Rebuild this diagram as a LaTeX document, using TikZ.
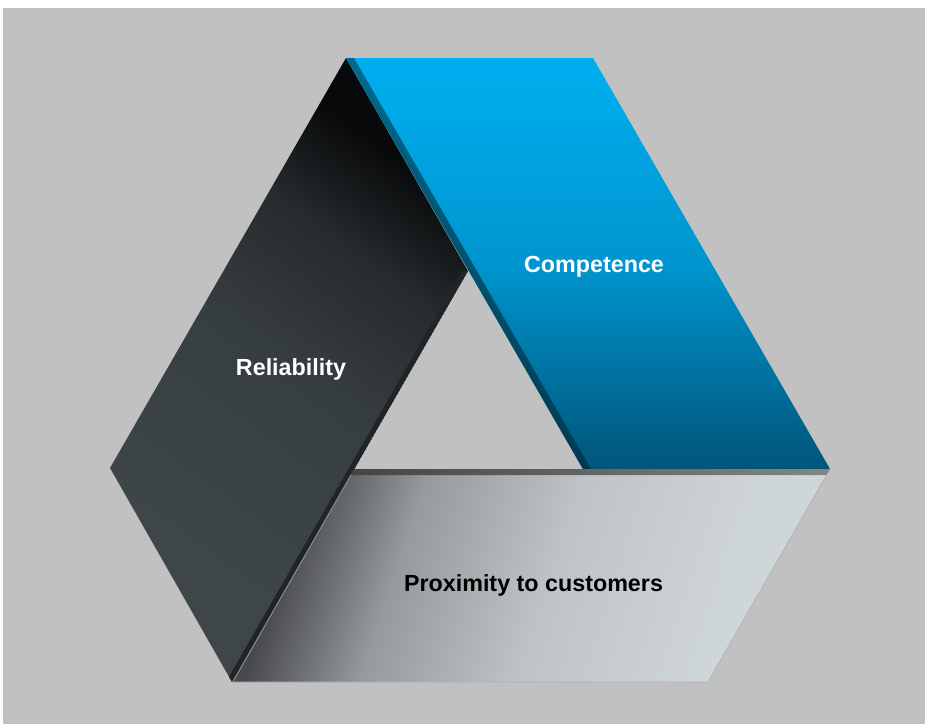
\documentclass[tikz,border=0pt]{standalone}
\usepackage{fontspec}
\setmainfont{Liberation Sans}
\definecolor{bgc}{HTML}{C1C1C1}
\definecolor{blueTop}{HTML}{00AEEF}
\definecolor{blueTopB}{HTML}{00A8E6}
\definecolor{blueMid}{HTML}{0095CF}
\definecolor{blueBot}{HTML}{00557A}
\definecolor{bstripTop}{HTML}{006A8E}
\definecolor{bstripBot}{HTML}{003A52}
\definecolor{dkA}{HTML}{3E4649}
\definecolor{dkB}{HTML}{373E41}
\definecolor{dkC}{HTML}{262B2D}
\definecolor{dkD}{HTML}{08090A}
\definecolor{dstrip}{HTML}{202628}
\definecolor{lbA}{HTML}{48494C}
\definecolor{lbB}{HTML}{959A9D}
\definecolor{lbC}{HTML}{BEC3C6}
\definecolor{lbD}{HTML}{CFD6D9}
\definecolor{lsA}{HTML}{434547}
\definecolor{lsB}{HTML}{838587}
\definecolor{lbEdge}{HTML}{ADB2B5}
\definecolor{lbHi}{HTML}{8F9396}
\pgfdeclarehorizontalshading{darksh}{100bp}{color(0bp)=(dkA); color(30bp)=(dkA); color(50bp)=(dkB); color(63bp)=(dkC); color(73bp)=(dkD); color(100bp)=(dkD)}
\pgfdeclareverticalshading{bluesh}{100bp}{color(0bp)=(blueBot); color(25bp)=(blueBot); color(50bp)=(blueMid); color(68bp)=(blueTopB); color(75bp)=(blueTop); color(100bp)=(blueTop)}
\pgfdeclareverticalshading{bstripsh}{100bp}{color(0bp)=(bstripBot); color(25bp)=(bstripBot); color(75bp)=(bstripTop); color(100bp)=(bstripTop)}
\pgfdeclarehorizontalshading{lightsh}{100bp}{color(0bp)=(lbA); color(26bp)=(lbA); color(37bp)=(lbB); color(52bp)=(lbC); color(70bp)=(lbD); color(100bp)=(lbD)}
\pgfdeclarehorizontalshading{lstripsh}{100bp}{color(0bp)=(lsA); color(25bp)=(lsA); color(75bp)=(lsB); color(100bp)=(lsB)}
\tikzset{
  lbl/.style={font=\bfseries\fontsize{23.3}{28}\selectfont, inner sep=0pt, anchor=base}
}
\begin{document}
\begin{tikzpicture}[x=1pt,y=-1pt]
\useasboundingbox (0,0) rectangle (925,724);
\fill[white] (0,0) rectangle (925,724);
\fill[bgc] (3,8) rectangle (925,724);
% key points
\coordinate (A) at (346,58);
\coordinate (B) at (593,58);
\coordinate (C) at (830,469);
\coordinate (D) at (583,469);
\coordinate (E) at (468,271);
\coordinate (F) at (110,468);
\coordinate (G) at (232,682);
\coordinate (H) at (708,682);
\coordinate (I) at (354,469);
% dark band (Reliability)
\shade[shading=darksh, shading angle=54] (A) -- (F) -- (G) -- (E) -- cycle;
\begin{scope}
  \clip (A) -- (F) -- (G) -- (E) -- cycle;
  \fill[dstrip] (G) -- (E) -- ([xshift=-6pt]E) -- ([xshift=-6pt]G) -- cycle;
\end{scope}
% blue band (Competence)
\shade[shading=bluesh] (A) -- (B) -- (C) -- (D) -- cycle;
\shade[shading=bstripsh] (A) -- ([xshift=8pt]A) -- ([xshift=8pt]D) -- (D) -- cycle;
% light band (Proximity to customers)
\shade[shading=lightsh, shading angle=-18] (I) -- (C) -- (H) -- (G) -- cycle;
\shade[shading=lstripsh] (I) -- (C) -- (826.5,475) -- (350.5,475) -- cycle;
\draw[lbEdge, line width=0.7pt] (826.5,475) -- (H) -- (G);
\draw[lbHi, line width=0.8pt] ([xshift=0.8pt]G) -- (351,475);
% labels
\node[lbl, white] (comp) at (594,272) {Competence};
\node[lbl, white] (rel) at (291,375) {Reliability};
\node[lbl, black] (prox) at (533.5,591) {Proximity to customers};
\end{tikzpicture}
\end{document}
